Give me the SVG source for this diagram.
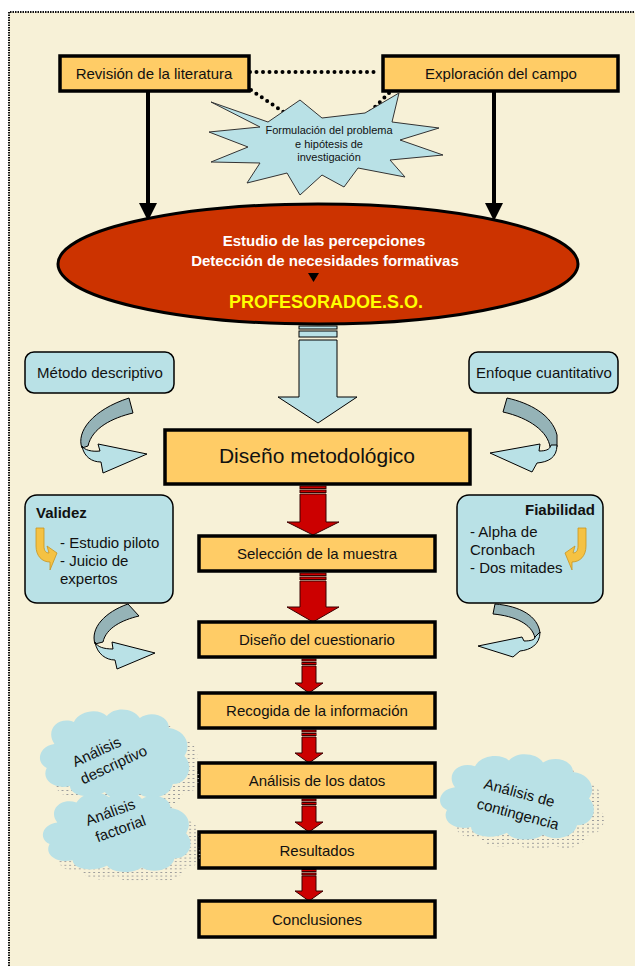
<svg xmlns="http://www.w3.org/2000/svg" width="635" height="966" viewBox="0 0 635 966">
<defs>
<style>
.t{font-family:"Liberation Sans",Arial,sans-serif;fill:#111}
.ob{fill:#FFCC66;stroke:#000;stroke-width:3.5}
.bb{fill:#B9E1E6;stroke:#000;stroke-width:1.5}
.red{fill:#CC0000;stroke:#3a0000;stroke-width:1}
.dark{fill:#95B3B7;stroke:#000;stroke-width:1}
.light{fill:#B9E1E6;stroke:#000;stroke-width:1}
.cloud{fill:#B9E1E6}
.shadow{fill:url(#dots)}
.yel{fill:#F5C243;stroke:#C89420;stroke-width:0.8}
.dot{fill:none;stroke:#000;stroke-width:4;stroke-linecap:round;stroke-dasharray:0 6.5}
</style>
<pattern id="dots" width="5" height="4" patternUnits="userSpaceOnUse">
<rect x="0" y="0" width="2" height="1" fill="#9a9a9a"/>
</pattern>
<path id="cloudShape" d="M18,36 C8,22 22,8 38,14 C44,2 64,0 72,8 C80,-2 100,0 106,10 C118,2 136,8 136,20 C152,22 160,36 152,48 C162,58 156,76 140,76 C138,88 118,94 106,86 C96,94 74,92 70,84 C56,92 34,88 34,78 C18,82 4,72 10,60 C-2,54 2,38 18,36 Z"/>
</defs>

<rect x="0" y="0" width="635" height="966" fill="#ffffff"/>
<rect x="9" y="12" width="630" height="960" fill="#F7F1D7"/>
<path d="M9,966 L9,12 L635,12" fill="none" stroke="#111" stroke-width="2" stroke-dasharray="1.5 1"/>

<g id="connectors">
  <line class="dot" x1="250" y1="72" x2="380" y2="72"/>
  <line class="dot" x1="251" y1="90" x2="288" y2="115"/>
  <line class="dot" x1="389" y1="93" x2="369" y2="113"/>
  <line x1="148" y1="91" x2="148" y2="205" stroke="#000" stroke-width="4"/>
  <polygon points="139,203 157,203 148,221" fill="#000"/>
  <line x1="494" y1="91" x2="494" y2="205" stroke="#000" stroke-width="4"/>
  <polygon points="485,203 503,203 494,221" fill="#000"/>

  <g id="blue-arrow">
    <rect class="light" x="299" y="326" width="38" height="3"/>
    <rect class="light" x="299" y="331" width="38" height="6"/>
    <polygon class="light" points="299,340 337,340 337,397 357,397 318,423 278,397 299,397"/>
  </g>

  <g id="curved-left-top">
    <path class="dark" d="M129,398 L133,413 C112,418 92,428 88,446 L82,448 C76,432 92,410 129,398 Z"/>
    <path class="light" d="M82,446 C84,450 92,452 100,451 L98,444 L147,454 L103,473 L101,462 C92,462 84,457 82,446 Z"/>
  </g>
  <g id="curved-right-top">
    <path class="dark" d="M507,398 C530,403 552,415 557,435 L557,447 L550,447 C548,432 530,418 503,412 Z"/>
    <path class="light" d="M557,445 C557,458 548,462 537,463 L532,472 L490,453 L540,444 L539,451 C545,451 550,450 551,445 Z"/>
  </g>
  <g id="curved-left-bottom">
    <path class="dark" d="M128,604 L139,616 C122,620 106,628 103,642 L95,644 C90,628 105,612 128,604 Z"/>
    <path class="light" d="M95,642 C97,647 104,649 113,649 L112,642 L155,653 L117,669 L115,660 C106,660 97,654 95,642 Z"/>
  </g>
  <g id="curved-right-bottom">
    <path class="dark" d="M495,604 C520,606 538,616 540,633 L535,638 C532,624 515,616 493,614 Z"/>
    <path class="light" d="M540,632 C540,645 530,650 520,651 L513,657 L478,646 L522,637 L524,641 C530,641 535,640 535,637 Z"/>
  </g>

  <g id="red-arrows">
    <rect class="red" x="300" y="486" width="26" height="2.5"/>
    <rect class="red" x="300" y="490" width="26" height="2.5"/>
    <polygon class="red" points="300,494 326,494 326,522 339,522 313,535 287,522 300,522"/>
    <rect class="red" x="300" y="573" width="26" height="2.5"/>
    <rect class="red" x="300" y="577" width="26" height="2.5"/>
    <polygon class="red" points="300,581 326,581 326,607 339,607 313,622 287,607 300,607"/>
    <rect class="red" x="302" y="659" width="14" height="2"/>
    <rect class="red" x="302" y="662.5" width="14" height="2"/>
    <polygon class="red" points="302,666 316,666 316,683 323,683 309,693 295,683 302,683"/>
    <rect class="red" x="302" y="730" width="14" height="2"/>
    <rect class="red" x="302" y="733.5" width="14" height="2"/>
    <polygon class="red" points="302,737 316,737 316,753 323,753 309,763 295,753 302,753"/>
    <rect class="red" x="302" y="799" width="14" height="2"/>
    <rect class="red" x="302" y="802.5" width="14" height="2"/>
    <polygon class="red" points="302,806 316,806 316,822 323,822 309,832 295,822 302,822"/>
    <rect class="red" x="302" y="869.5" width="14" height="2"/>
    <rect class="red" x="302" y="873" width="14" height="2"/>
    <polygon class="red" points="302,876 316,876 316,891 323,891 309,901 295,891 302,891"/>
  </g>
</g>

<g id="box-revision">
  <rect class="ob" x="60" y="56" width="189" height="35"/>
  <text class="t" x="154" y="79" font-size="15" text-anchor="middle">Revisión de la literatura</text>
</g>
<g id="box-exploracion">
  <rect class="ob" x="383" y="56" width="235" height="35"/>
  <text class="t" x="501" y="79" font-size="15" text-anchor="middle">Exploración del campo</text>
</g>

<g id="star">
  <polygon points="211,102 268,122 300,100 322,118 365,113 399,93 392,122 439,128 400,140 443,155 390,160 405,177 358,168 344,187 322,175 300,195 287,173 247,183 260,163 211,162 248,147 209,132 260,127" fill="#B9E1E6" stroke="#333" stroke-width="1"/>
  <text class="t" font-size="11" text-anchor="middle" fill="#222"><tspan x="329" y="134">Formulación del problema</tspan><tspan x="329" y="148">e hipótesis de</tspan><tspan x="329" y="161">investigación</tspan></text>
</g>

<g id="ellipse">
  <ellipse cx="318" cy="264" rx="260" ry="60" fill="#CC3300" stroke="#000" stroke-width="3"/>
  <text class="t" x="324" y="246" font-size="15" font-weight="bold" text-anchor="middle" style="fill:#fff">Estudio de las percepciones</text>
  <text class="t" x="325" y="266" font-size="15" font-weight="bold" text-anchor="middle" style="fill:#fff">Detección de necesidades formativas</text>
  <polygon points="308,273 319,273 313.5,282" fill="#000"/>
  <text class="t" x="326" y="308" font-size="18" font-weight="bold" text-anchor="middle" style="fill:#FFFF00">PROFESORADOE.S.O.</text>
</g>

<g id="box-metodo">
  <rect class="bb" x="25" y="352" width="149" height="41" rx="9"/>
  <text class="t" x="100" y="378" font-size="15" text-anchor="middle">Método descriptivo</text>
</g>
<g id="box-enfoque">
  <rect class="bb" x="469" y="352" width="149" height="41" rx="9"/>
  <text class="t" x="544" y="378" font-size="15" text-anchor="middle">Enfoque cuantitativo</text>
</g>

<g id="box-diseno">
  <rect class="ob" x="165" y="430" width="305" height="54"/>
  <text class="t" x="317" y="463" font-size="21" text-anchor="middle">Diseño metodológico</text>
</g>

<g id="box-validez">
  <rect class="bb" x="25" y="495" width="148" height="108" rx="12"/>
  <text class="t" x="36" y="518" font-size="15" font-weight="bold">Validez</text>
  <path class="yel" d="M36,528 L44,528 L44,546 C44,551 46,553 49,553 L47,546 L57,553 L50,570 L50,562 C42,562 36,556 36,546 Z"/>
  <text class="t" font-size="15"><tspan x="60" y="548">- Estudio piloto</tspan><tspan x="60" y="566">- Juicio de</tspan><tspan x="60" y="584">expertos</tspan></text>
</g>
<g id="box-fiabilidad">
  <rect class="bb" x="457" y="495" width="146" height="108" rx="12"/>
  <text class="t" x="595" y="515" font-size="15" font-weight="bold" text-anchor="end">Fiabilidad</text>
  <path class="yel" d="M586,528 L578,528 L578,546 C578,551 576,553 573,553 L575,546 L565,553 L572,570 L572,562 C580,562 586,556 586,546 Z"/>
  <text class="t" font-size="15"><tspan x="470" y="537">- Alpha de</tspan><tspan x="470" y="555">Cronbach</tspan><tspan x="470" y="573">- Dos mitades</tspan></text>
</g>

<g id="box-seleccion">
  <rect class="ob" x="199" y="536" width="236" height="35"/>
  <text class="t" x="317" y="559" font-size="15" text-anchor="middle">Selección de la muestra</text>
</g>
<g id="box-cuestionario">
  <rect class="ob" x="199" y="622" width="236" height="35"/>
  <text class="t" x="317" y="645" font-size="15" text-anchor="middle">Diseño del cuestionario</text>
</g>
<g id="box-recogida">
  <rect class="ob" x="199" y="693" width="236" height="35"/>
  <text class="t" x="317" y="716" font-size="15" text-anchor="middle">Recogida de la información</text>
</g>
<g id="box-analisis">
  <rect class="ob" x="199" y="763" width="236" height="34"/>
  <text class="t" x="317" y="786" font-size="15" text-anchor="middle">Análisis de los datos</text>
</g>
<g id="box-resultados">
  <rect class="ob" x="199" y="832" width="236" height="36"/>
  <text class="t" x="317" y="856" font-size="15" text-anchor="middle">Resultados</text>
</g>
<g id="box-conclusiones">
  <rect class="ob" x="199" y="901" width="236" height="36"/>
  <text class="t" x="317" y="925" font-size="15" text-anchor="middle">Conclusiones</text>
</g>

<g id="cloud-descriptivo">
  <use href="#cloudShape" class="shadow" transform="translate(47,718) scale(0.97,1)"/>
  <use href="#cloudShape" class="cloud" transform="translate(37,708) scale(0.97,1)"/>
  <g transform="translate(108,762) rotate(-25)">
    <text class="t" x="-6" y="-9" font-size="15" text-anchor="middle" fill="#222">Análisis</text>
    <text class="t" x="4" y="10" font-size="15" text-anchor="middle" fill="#222">descriptivo</text>
  </g>
</g>
<g id="cloud-factorial">
  <use href="#cloudShape" class="shadow" transform="translate(50,800) scale(0.96,0.9)"/>
  <use href="#cloudShape" class="cloud" transform="translate(40,790) scale(0.96,0.9)"/>
  <g transform="translate(116,822) rotate(-20)">
    <text class="t" x="-2" y="-6" font-size="15" text-anchor="middle" fill="#222">Análisis</text>
    <text class="t" x="2" y="13" font-size="15" text-anchor="middle" fill="#222">factorial</text>
  </g>
</g>
<g id="cloud-contingencia">
  <use href="#cloudShape" class="shadow" transform="translate(447,763) scale(1,0.95)"/>
  <use href="#cloudShape" class="cloud" transform="translate(437,753) scale(1,0.95)"/>
  <g transform="translate(518,806) rotate(15)">
    <text class="t" x="-2" y="-8" font-size="15" text-anchor="middle" fill="#222">Análisis de</text>
    <text class="t" x="2" y="13" font-size="15" text-anchor="middle" fill="#222">contingencia</text>
  </g>
</g>
</svg>
